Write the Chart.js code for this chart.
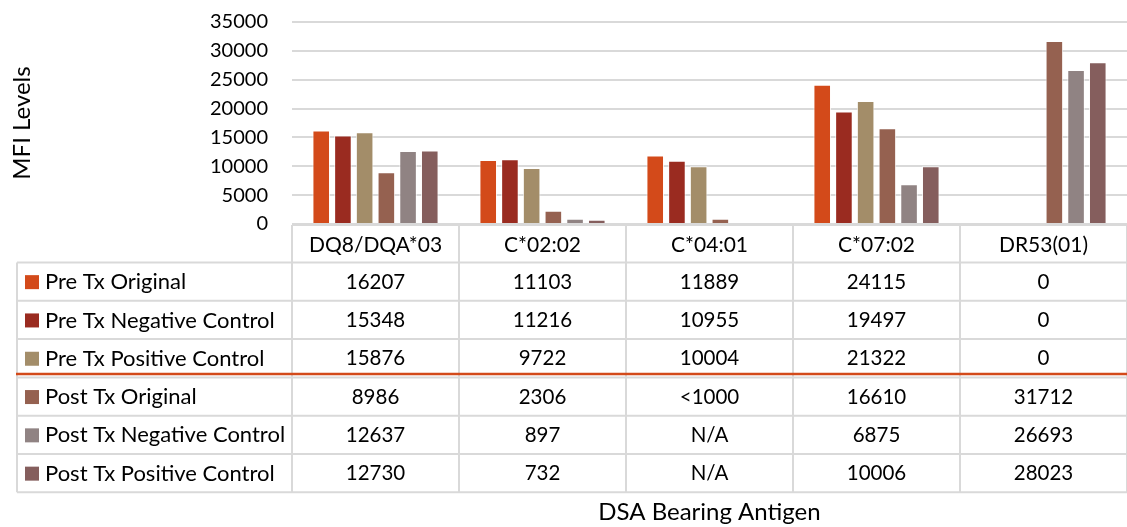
<!DOCTYPE html>
<html>
<head>
<meta charset="utf-8">
<script src="https://cdn.jsdelivr.net/npm/chart.js@4"></script>
<style>
  html, body { margin: 0; padding: 0; background: #fff; }
  #wrap { width: 1127px; height: 527px; position: relative; }
</style>
</head>
<body>
<div id="wrap"><canvas id="chart" width="1127" height="527"></canvas></div>
<script>
// Antigens (x categories)
const categories = ['DQ8/DQA*03', 'C*02:02', 'C*04:01', 'C*07:02', 'DR53(01)'];

// MFI values per series (null = N/A)
const preTxOriginal        = [16207, 11103, 11889, 24115, 0];
const preTxNegativeControl = [15348, 11216, 10955, 19497, 0];
const preTxPositiveControl = [15876, 9722, 10004, 21322, 0];
const postTxOriginal        = [8986, 2306, 900, 16610, 31712];
const postTxNegativeControl = [12637, 897, null, 6875, 26693];
const postTxPositiveControl = [12730, 732, null, 10006, 28023];

// Cells shown as text instead of the raw number
const postTxOriginalText = ['8986', '2306', '<1000', '16610', '31712'];

const seriesNames = [
  'Pre Tx Original', 'Pre Tx Negative Control', 'Pre Tx Positive Control',
  'Post Tx Original', 'Post Tx Negative Control', 'Post Tx Positive Control'
];
const seriesColors = ['#D34A1A', '#9A2B20', '#A38D69', '#956150', '#908383', '#855E5D'];

// Y axis ticks
const yMin = 0, yMax = 35000, yStep = 5000;

const seriesValues = [preTxOriginal, preTxNegativeControl, preTxPositiveControl,
                      postTxOriginal, postTxNegativeControl, postTxPositiveControl];
const seriesText = seriesValues.map((vals, i) =>
  i === 3 ? postTxOriginalText : vals.map(v => v === null ? 'N/A' : String(v)));

const FONT = 'Lato';

// Data table drawn under the plot, columns aligned to the x scale
const dataTable = {
  id: 'dataTable',
  afterDraw(chart) {
    const { ctx, chartArea } = chart;
    const x = chart.scales.x;
    const n = categories.length;
    const colW = (x.right - x.left) / n;
    const top = chartArea.bottom + 1;
    const headerBottom = top + 37.5;
    const rowH = 38.3;
    const tableLeft = 17;
    const bottom = headerBottom + rowH * seriesNames.length;

    ctx.save();
    ctx.strokeStyle = '#d9d9d9';
    ctx.lineWidth = 2;
    ctx.beginPath();
    // header top border
    ctx.moveTo(x.left, top); ctx.lineTo(x.right, top);
    // row borders
    for (let r = 0; r <= seriesNames.length; r++) {
      const y = headerBottom + r * rowH;
      ctx.moveTo(tableLeft, y); ctx.lineTo(x.right, y);
    }
    // column borders
    for (let c = 0; c <= n; c++) {
      const cx = x.left + c * colW;
      ctx.moveTo(cx, top); ctx.lineTo(cx, bottom);
    }
    ctx.moveTo(tableLeft, headerBottom); ctx.lineTo(tableLeft, bottom);
    ctx.stroke();

    // separator between pre- and post-transplant rows
    ctx.strokeStyle = '#D34A1A';
    ctx.lineWidth = 2.5;
    ctx.beginPath();
    const sepY = headerBottom + 3 * rowH - 3.3;
    ctx.moveTo(tableLeft - 1, sepY); ctx.lineTo(x.right, sepY);
    ctx.stroke();

    ctx.fillStyle = '#000';
    ctx.textBaseline = 'middle';

    // header labels
    ctx.font = `21px ${FONT}`;
    ctx.textAlign = 'center';
    categories.forEach((cat, c) => {
      ctx.fillText(cat, x.left + (c + 0.5) * colW, (top + headerBottom) / 2 + 1);
    });

    // series rows
    seriesNames.forEach((name, r) => {
      const cy = headerBottom + r * rowH + rowH / 2 + 0.5;
      ctx.fillStyle = seriesColors[r];
      ctx.fillRect(25, cy - 7, 14, 14);
      ctx.fillStyle = '#000';
      ctx.font = `22px ${FONT}`;
      ctx.textAlign = 'left';
      ctx.fillText(name, 45, cy);
      ctx.font = `20.5px ${FONT}`;
      ctx.textAlign = 'center';
      seriesText[r].forEach((t, c) => {
        ctx.fillText(t, x.left + (c + 0.5) * colW, cy);
      });
    });

    // x axis title
    ctx.font = `24px ${FONT}`;
    ctx.textAlign = 'center';
    ctx.fillText('DSA Bearing Antigen', (x.left + x.right) / 2, 512);
    ctx.restore();
  }
};

Chart.defaults.color = '#000';
Chart.defaults.font.family = FONT;
Chart.defaults.font.size = 20;

new Chart(document.getElementById('chart'), {
  type: 'bar',
  data: {
    labels: categories,
    datasets: seriesNames.map((name, i) => ({
      label: name,
      data: seriesValues[i],
      backgroundColor: seriesColors[i],
      borderColor: 'rgba(255,255,255,0.75)',
      borderWidth: 1,
      categoryPercentage: 0.78,
      barPercentage: 0.81
    }))
  },
  options: {
    responsive: false,
    animation: false,
    devicePixelRatio: 1,
    layout: { autoPadding: false, padding: { top: 22, right: 0, bottom: 303, left: 0 } },
    plugins: { legend: { display: false }, tooltip: { enabled: false } },
    scales: {
      x: { display: false },
      y: {
        min: yMin, max: yMax,
        border: { display: false },
        grid: { color: '#d9d9d9', lineWidth: 2, drawTicks: false },
        ticks: { stepSize: yStep, padding: 24, color: '#000', callback: v => String(v) },
        title: { display: true, text: 'MFI Levels', color: '#000', font: { size: 24 }, padding: { top: 8, bottom: 0 } },
        afterFit(scale) {
          scale.width = 292;
          scale.paddingTop = 0;
          scale.paddingBottom = 0;
        }
      }
    }
  },
  plugins: [dataTable]
});
</script>
</body>
</html>
